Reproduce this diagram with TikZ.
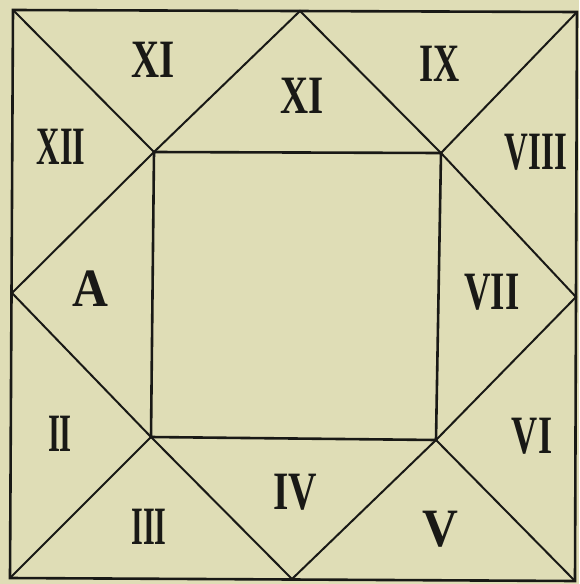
\documentclass[tikz,border=0pt]{standalone}
\usepackage{fontspec}
\usepackage{graphicx}
\setmainfont{Liberation Serif}
\definecolor{paper}{RGB}{223,221,182}
\definecolor{ink}{RGB}{25,25,22}
\newcommand\hlab[2]{\scalebox{#1}[1]{#2}}
\tikzset{
  rule/.style={draw=ink, line width=2.6pt, line join=miter},
  thin/.style={draw=ink, line width=2pt},
  lab/.style={inner sep=0pt, text=ink, font=\fontsize{54}{54}\selectfont\bfseries}
}
\begin{document}
\begin{tikzpicture}[x=1pt,y=-1pt]
\fill[paper] (0,0) rectangle (579,584);
\useasboundingbox (0,0) rectangle (579,584);
% outer corners
\coordinate (OTL) at (13,10);
\coordinate (OTR) at (577,12);
\coordinate (OBR) at (575,581);
\coordinate (OBL) at (10,578);
% edge midpoints
\coordinate (MT) at (300,11);
\coordinate (MR) at (576,297);
\coordinate (MB) at (292,579);
\coordinate (ML) at (12,293);
% inner corners
\coordinate (ITL) at (154,152);
\coordinate (ITR) at (441,153);
\coordinate (IBR) at (436,440);
\coordinate (IBL) at (151,437);
% diagonals
\draw[thin] (OTL) -- (ITL);
\draw[thin] (OTR) -- (ITR);
\draw[thin] (OBR) -- (IBR);
\draw[thin] (OBL) -- (IBL);
% diamond
\draw[thin] (MT) -- (ITL) -- (ML) -- (IBL) -- (MB) -- (IBR) -- (MR) -- (ITR) -- cycle;
% frames
\draw[rule] (OTL) -- (OTR) -- (OBR) -- (OBL) -- cycle;
\draw[rule] (ITL) -- (ITR) -- (IBR) -- (IBL) -- cycle;
% labels
\node[lab] (h11a) at (153,60) {\hlab{0.72}{XI}};
\node[lab] (h12) at (61,147) {\hlab{0.60}{XII}};
\node[lab] (h11b) at (302,96) {\hlab{0.72}{XI}};
\node[lab] (h9) at (440,64) {\hlab{0.67}{IX}};
\node[lab] (h8) at (536,152) {\hlab{0.61}{VIII}};
\node[lab] (hA) at (90,289) {\hlab{0.92}{A}};
\node[lab] (h7) at (492,292) {\hlab{0.68}{VII}};
\node[lab] (h2) at (60,434) {\hlab{0.57}{II}};
\node[lab] (h3) at (149,527) {\hlab{0.56}{III}};
\node[lab] (h4) at (295,492) {\hlab{0.73}{IV}};
\node[lab] (h5) at (440,529) {\hlab{0.92}{V}};
\node[lab] (h6) at (532,436) {\hlab{0.67}{VI}};
\end{tikzpicture}
\end{document}
